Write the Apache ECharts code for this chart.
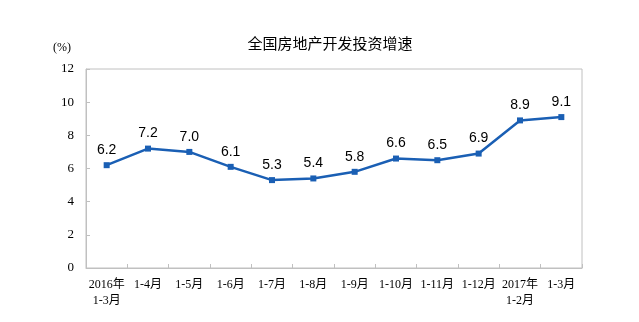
<!DOCTYPE html>
<html><head><meta charset="utf-8">
<script src="https://cdn.jsdelivr.net/npm/echarts@6/dist/echarts.min.js"></script>
<style>html,body{margin:0;padding:0;background:#fff}#c{width:639px;height:322px}</style>
</head><body><div id="c"></div>
<script>
const categories = ['2016年\n1-3月','1-4月','1-5月','1-6月','1-7月','1-8月','1-9月','1-10月','1-11月','1-12月','2017年\n1-2月','1-3月'];
const values = [6.2, 7.2, 7.0, 6.1, 5.3, 5.4, 5.8, 6.6, 6.5, 6.9, 8.9, 9.1];
const yTicks = [0, 2, 4, 6, 8, 10, 12];
const chart = echarts.init(document.getElementById('c'));
const axisFont = "'Liberation Serif', 'Noto Sans CJK SC', serif";
chart.setOption({
  animation: false,
  title: {text: '全国房地产开发投资增速', left: 325, top: 31, textAlign: 'center',
    textStyle: {fontSize: 15, fontWeight: 'normal', color: '#000', fontFamily: "'Noto Sans CJK SC', sans-serif"}},
  grid: {left: 86, right: 57, top: 69, bottom: 54, show: true, borderColor: '#c0c0c0', borderWidth: 1},
  xAxis: {type: 'category', data: categories, boundaryGap: true,
    axisLine: {lineStyle: {color: '#c0c0c0'}},
    axisTick: {show: true, inside: true, length: 4, lineStyle: {color: '#c0c0c0'}},
    axisLabel: {interval: 0, color: '#000', fontSize: 12, fontFamily: axisFont, margin: 9, lineHeight: 16}},
  yAxis: {type: 'value', min: yTicks[0], max: yTicks[yTicks.length-1], interval: 2,
    name: '(%)', nameLocation: 'end', nameGap: 15, nameTextStyle: {color: '#000', fontSize: 12, fontFamily: axisFont, padding: [0, 48, 0, 0]},
    splitLine: {show: false},
    axisLine: {show: true, lineStyle: {color: '#c0c0c0'}},
    axisTick: {show: true, inside: true, length: 4, lineStyle: {color: '#c0c0c0'}},
    axisLabel: {color: '#000', fontSize: 13, fontFamily: axisFont, margin: 12}},
  series: [{type: 'line', data: values, symbol: 'rect', symbolSize: 6,
    lineStyle: {color: '#1a5fb4', width: 2.5}, itemStyle: {color: '#1a5fb4'},
    label: {show: true, position: 'top', distance: 5, formatter: p => p.value.toFixed(1),
      color: '#000', fontSize: 14, fontFamily: "'Liberation Sans', Arial, sans-serif"}}]
});
</script></body></html>
